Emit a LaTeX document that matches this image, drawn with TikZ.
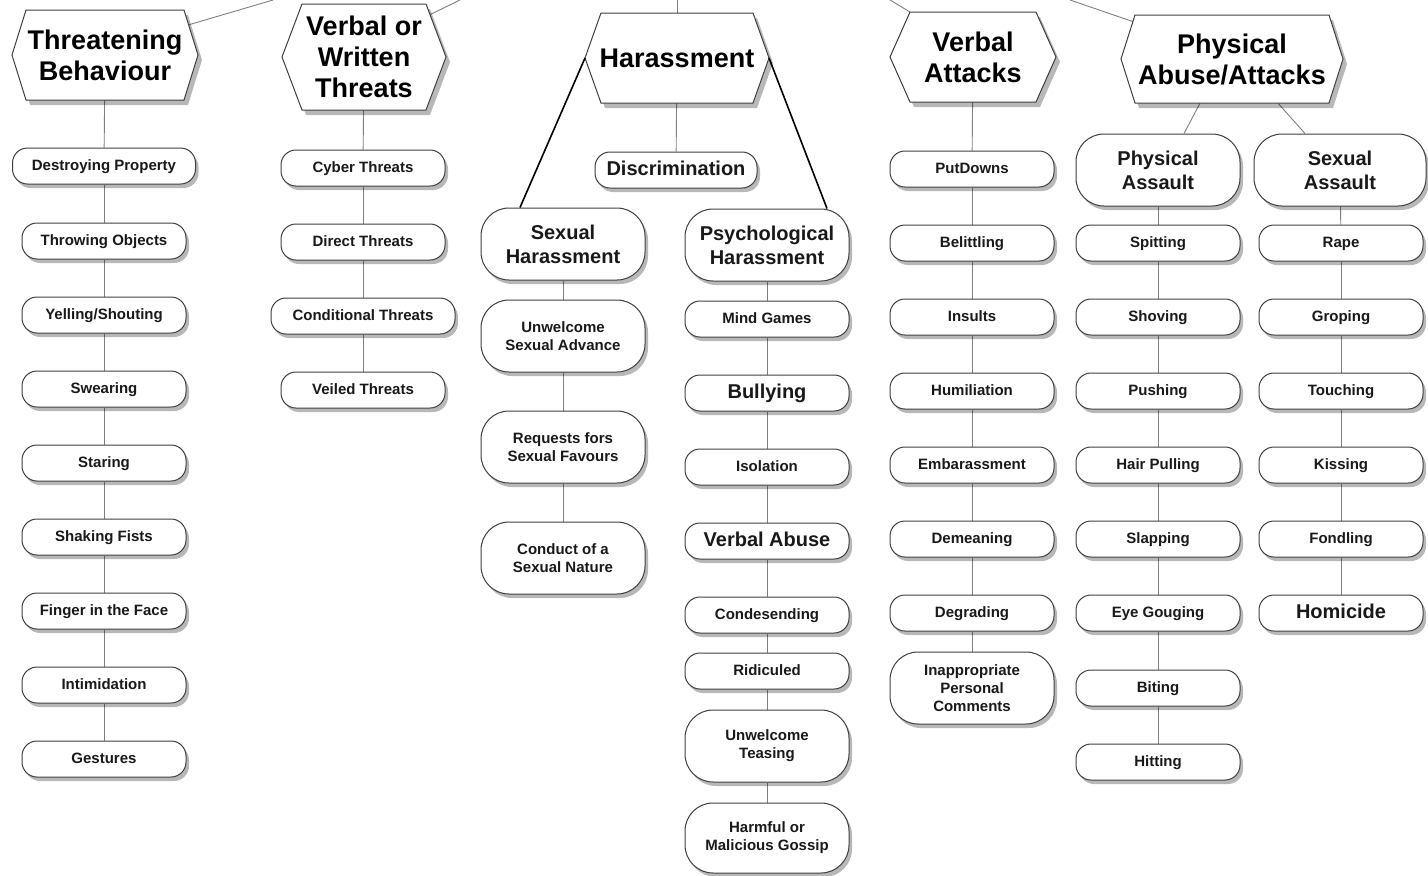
\documentclass[tikz,border=0pt]{standalone}
\usepackage{fontspec}
\setmainfont{Liberation Sans}
\usetikzlibrary{shadows,calc}
\pgfdeclarelayer{back}
\pgfdeclarelayer{bg}
\pgfsetlayers{back,bg,main}
\newcommand\leafFont{\fontsize{15}{18}\selectfont\bfseries}
\newcommand\midFont{\fontsize{20}{24}\selectfont\bfseries}
\newcommand\hexFont{\fontsize{27}{31}\selectfont\bfseries}
\tikzset{
 box/.style={draw=black!75, line width=1pt, fill=white, text=black!90, align=center, inner sep=2pt,
   drop shadow={shadow xshift=3pt, shadow yshift=-4pt, fill=black, opacity=0.28}},
 leaf/.style={box, rounded corners=15pt, minimum width=164pt, minimum height=36pt, font=\leafFont, text height=11pt, text depth=3pt},
 leaftall/.style={box, rounded corners=28pt, minimum width=164pt, minimum height=72pt, font=\leafFont},
 bigleaf/.style={box, rounded corners=15pt, minimum width=164pt, minimum height=36pt, font=\midFont, text height=14.5pt, text depth=4pt},
 mid/.style={box, rounded corners=28pt, minimum width=164pt, minimum height=72pt, font=\midFont},
 hexlabel/.style={inner sep=0pt, align=center, text=black, font=\hexFont},
 hexshape/.style={draw=black!75, line width=1pt, fill=white},
 hexshadow/.style={fill=black, opacity=0.28},
 link/.style={draw=black!50, line width=0.9pt},
 strong/.style={draw=black, line width=1.6pt},
}
% name, cx, cy, half width, half height, indent, text
\newcommand\hexnode[7]{%
 \fill[hexshadow] ({#2-#4+4},{#3+5}) -- ({#2-#4+#6+4},{#3-#5+5}) -- ({#2+#4-#6+4},{#3-#5+5}) -- ({#2+#4+4},{#3+5}) -- ({#2+#4-#6+4},{#3+#5+5}) -- ({#2-#4+#6+4},{#3+#5+5}) -- cycle;
 \draw[hexshape] ({#2-#4},{#3}) coordinate (#1-w) -- ({#2-#4+#6},{#3-#5}) coordinate (#1-nw) -- ({#2+#4-#6},{#3-#5}) coordinate (#1-ne) -- ({#2+#4},{#3}) coordinate (#1-e) -- ({#2+#4-#6},{#3+#5}) coordinate (#1-se) -- ({#2-#4+#6},{#3+#5}) coordinate (#1-sw) -- cycle;
 \node[hexlabel, minimum width=2*#4pt, minimum height=2*#5pt] (#1) at (#2,#3) {#7};
}
\begin{document}
\begin{tikzpicture}[x=1pt,y=-1pt]
\begin{pgfonlayer}{back}
\fill[white] (0,0) rectangle (1428,876);
\end{pgfonlayer}
\useasboundingbox (0,0) rectangle (1428,876);

% top-level hexagons
\hexnode{tb}{105}{55}{93}{45}{14}{Threatening\\Behaviour}
\hexnode{vw}{364}{57}{82}{53}{20}{Verbal or\\Written\\Threats}
\hexnode{har}{677}{58}{92}{45}{16}{Harassment}
\hexnode{va}{973}{57}{83}{45}{20}{Verbal\\Attacks}
\hexnode{pa}{1232}{59}{111}{44}{14}{Physical\\Abuse/Attacks}

% column 1
\node[leaf, minimum width=183pt] (dp) at (104,166) {Destroying Property};
\node[leaf] (to) at (104,241) {Throwing Objects};
\node[leaf] (ys) at (104,315) {Yelling/Shouting};
\node[leaf] (sw) at (104,389) {Swearing};
\node[leaf] (st) at (104,463) {Staring};
\node[leaf] (sf) at (104,537) {Shaking Fists};
\node[leaf] (ff) at (104,611) {Finger in the Face};
\node[leaf] (im) at (104,685) {Intimidation};
\node[leaf] (ge) at (104,759) {Gestures};

% column 2
\node[leaf] (ct) at (363,168) {Cyber Threats};
\node[leaf] (dt) at (363,242) {Direct Threats};
\node[leaf, minimum width=184pt] (cdt) at (363,316) {Conditional Threats};
\node[leaf] (vt) at (363,390) {Veiled Threats};

% harassment
\node[bigleaf, minimum width=162pt] (dis) at (676,170) {Discrimination};
\node[mid] (sh) at (563,244) {Sexual\\Harassment};
\node[leaftall] (usa) at (563,336) {Unwelcome\\Sexual Advance};
\node[leaftall] (rsf) at (563,447) {Requests fors\\Sexual Favours};
\node[leaftall] (csn) at (563,558) {Conduct of a\\Sexual Nature};
\node[mid] (ph) at (767,245) {Psychological\\Harassment};
\node[leaf] (mg) at (767,319) {Mind Games};
\node[bigleaf] (bu) at (767,393) {Bullying};
\node[leaf] (iso) at (767,467) {Isolation};
\node[bigleaf] (vab) at (767,541) {Verbal Abuse};
\node[leaf] (con) at (767,615) {Condesending};
\node[leaf] (rid) at (767,671) {Ridiculed};
\node[leaftall] (ut) at (767,746) {Unwelcome\\Teasing};
\node[leaftall, minimum height=70pt] (hmg) at (767,838) {Harmful or\\Malicious Gossip};

% verbal attacks
\node[leaf] (pd) at (972,169) {PutDowns};
\node[leaf] (bel) at (972,243) {Belittling};
\node[leaf] (ins) at (972,317) {Insults};
\node[leaf] (hum) at (972,391) {Humiliation};
\node[leaf] (emb) at (972,465) {Embarassment};
\node[leaf] (dem) at (972,539) {Demeaning};
\node[leaf] (deg) at (972,613) {Degrading};
\node[leaftall] (ipc) at (972,688) {Inappropriate\\Personal\\Comments};

% physical abuse
\node[mid] (pas) at (1158,170) {Physical\\Assault};
\node[leaf] (spi) at (1158,243) {Spitting};
\node[leaf] (sho) at (1158,317) {Shoving};
\node[leaf] (pus) at (1158,391) {Pushing};
\node[leaf] (hp) at (1158,465) {Hair Pulling};
\node[leaf] (sla) at (1158,539) {Slapping};
\node[leaf] (eg) at (1158,613) {Eye Gouging};
\node[leaf] (bit) at (1158,688) {Biting};
\node[leaf] (hit) at (1158,762) {Hitting};
\node[mid, minimum width=172pt] (sas) at (1340,170) {Sexual\\Assault};
\node[leaf] (rap) at (1341,243) {Rape};
\node[leaf] (gro) at (1341,317) {Groping};
\node[leaf] (tou) at (1341,391) {Touching};
\node[leaf] (kis) at (1341,465) {Kissing};
\node[leaf] (fon) at (1341,539) {Fondling};
\node[bigleaf] (hom) at (1341,613) {Homicide};

% free ends at the top edge
\coordinate (r1) at (273,0);
\coordinate (r2) at (460,0);
\coordinate (r3) at (677,0);
\coordinate (r4) at (890,0);
\coordinate (r5) at (1070,0);

\begin{pgfonlayer}{bg}
\draw[link] ($(tb-ne)!0.33!(tb-e)$) -- (r1);
\draw[link] ($(vw-ne)!0.2!(vw-e)$) -- (r2);
\draw[link] (har) -- (r3);
\draw[link] (va-nw) -- (r4);
\draw[link] ($(pa-nw)!0.15!(pa-w)$) -- (r5);
\foreach \a/\b in {tb/dp,dp/to,to/ys,ys/sw,sw/st,st/sf,sf/ff,ff/im,im/ge,
  vw/ct,ct/dt,dt/cdt,cdt/vt,
  har/dis,sh/usa,usa/rsf,rsf/csn,
  ph/mg,mg/bu,bu/iso,iso/vab,vab/con,con/rid,rid/ut,ut/hmg,
  va/pd,pd/bel,bel/ins,ins/hum,hum/emb,emb/dem,dem/deg,deg/ipc,
  pas/spi,spi/sho,sho/pus,pus/hp,hp/sla,sla/eg,eg/bit,bit/hit,
  sas/rap,rap/gro,gro/tou,tou/kis,kis/fon,fon/hom}
  \draw[link] (\a) -- (\b);
\draw[link] ($(pa.south)+(-32,0)$) -- ($(pas.north)+(26,0)$);
\draw[link] ($(pa.south)+(46,0)$) -- ($(sas.north)+(-35,0)$);
\end{pgfonlayer}
\draw[strong] (har-w) -- ($(sh.north)+(-43,0)$);
\draw[strong] (har-e) -- ($(ph.north)+(60,0)$);
\end{tikzpicture}
\end{document}
